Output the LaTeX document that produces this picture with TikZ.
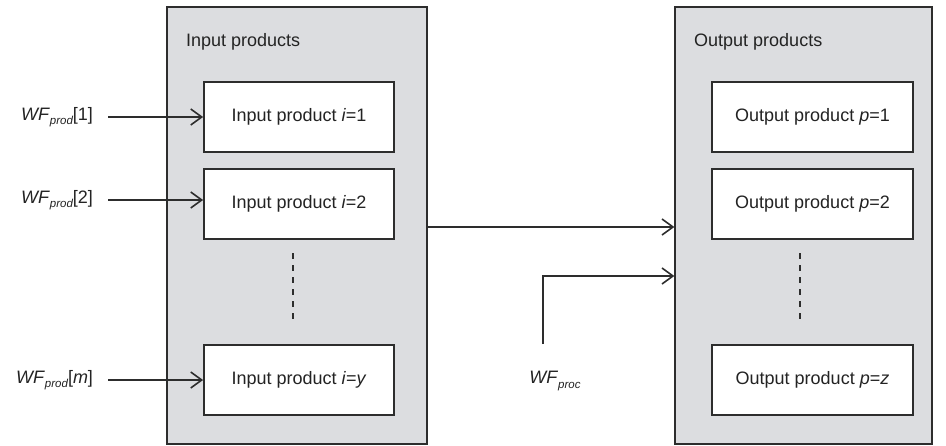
\documentclass[tikz,border=0pt]{standalone}
\usepackage{fontspec}
\setmainfont{Liberation Sans}
\usetikzlibrary{arrows.meta}
\definecolor{panelgray}{RGB}{220,221,224}
\definecolor{inkgray}{RGB}{45,45,45}
\definecolor{textgray}{RGB}{35,35,35}
\newcommand{\wfsub}[1]{\textit{WF}\raisebox{-4.5pt}{\fontsize{11.5}{13}\selectfont\itshape #1}}
\begin{document}
\begin{tikzpicture}[x=1pt,y=-1pt,
  every node/.style={text=textgray, font=\fontsize{18}{21}\selectfont},
  panel/.style={draw=inkgray, line width=1.3pt, fill=panelgray, inner sep=0pt},
  itembox/.style={draw=inkgray, line width=1.8pt, fill=white, minimum height=70pt, inner sep=0pt},
  inbox/.style={itembox, minimum width=190pt},
  outbox/.style={itembox, minimum width=201pt},
  wflabel/.style={inner sep=0pt, outer sep=0pt},
  flow/.style={draw=inkgray, line width=1.6pt, -{Straight Barb[length=11pt,width=16pt,line width=1.6pt]}},
  dots/.style={draw=inkgray, line width=1.4pt, dash pattern=on 6pt off 6pt}
]
\useasboundingbox (0,0) rectangle (946,445);

% containers
\node[panel, minimum width=260pt, minimum height=437pt] (inc) at (297,225.5) {};
\node[panel, minimum width=257pt, minimum height=437pt] (outc) at (803.5,225.5) {};
\node[anchor=west, inner sep=0pt] (intitle) at (186,42) {Input products};
\node[anchor=west, inner sep=0pt] (outtitle) at (694,42) {Output products};

% input items
\node[inbox] (in1) at (299,117) {Input product \textit{i}=1};
\node[inbox] (in2) at (299,204) {Input product \textit{i}=2};
\node[inbox] (in3) at (299,380) {Input product \textit{i}=\textit{y}};
\coordinate (indA) at (293,253);
\coordinate (indB) at (293,322);
\draw[dots] (indA) -- (indB);

% output items
\node[outbox] (out1) at (812.5,117) {Output product \textit{p}=1};
\node[outbox] (out2) at (812.5,204) {Output product \textit{p}=2};
\node[outbox] (out3) at (812.5,380) {Output product \textit{p}=\textit{z}};
\coordinate (outdA) at (800,253);
\coordinate (outdB) at (800,322);
\draw[dots] (outdA) -- (outdB);

% incoming product flows
\node[wflabel, anchor=east] (wf1) at (93,117) {\wfsub{prod}[1]};
\node[wflabel, anchor=east] (wf2) at (93,200) {\wfsub{prod}[2]};
\node[wflabel, anchor=east] (wfm) at (93,380) {\wfsub{prod}[\textit{m}]};
\draw[flow, shorten <=15pt] (wf1.east) -- (in1.west |- wf1.east);
\draw[flow, shorten <=15pt] (wf2.east) -- (in2.west |- wf2.east);
\draw[flow, shorten <=15pt] (wfm.east) -- (in3.west |- wfm.east);

% transfer between containers
\coordinate (midy) at (0,227);
\draw[flow] (inc.east |- midy) -- (outc.west |- midy);

% process flow
\node[wflabel] (wfp) at (555,381) {\wfsub{proc}};
\coordinate (pstart) at (543,344);
\coordinate (py) at (0,276);
\draw[flow] (pstart) |- (outc.west |- py);
\end{tikzpicture}
\end{document}
